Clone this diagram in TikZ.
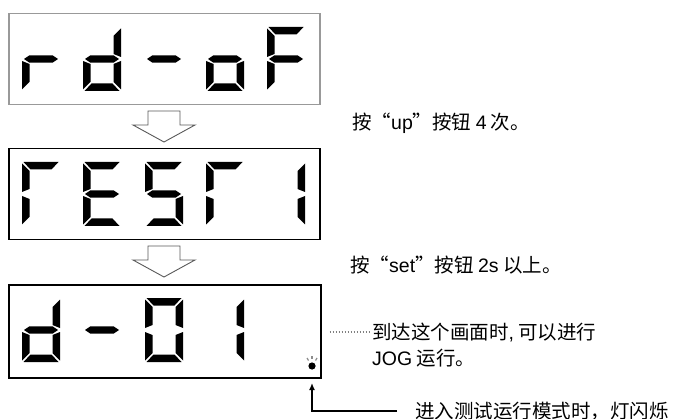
\documentclass[tikz,border=0pt]{standalone}
\usepackage{fontspec}
\setmainfont{Liberation Sans}
\newfontfamily\cjk{Noto Sans CJK SC}
\newfontfamily\lat{Liberation Sans}
\usetikzlibrary{arrows.meta}

\tikzset{
  lcdseg/.style={fill=black},
  lcdbox/.style={draw=black, line width=1.5pt, minimum width=311pt, minimum height=91pt, anchor=north west, inner sep=0pt},
  downarrow/.style={draw=black!65, fill=white, line width=0.9pt, line join=miter},
  note/.style={font=\cjk\fontsize{19.5}{23}\selectfont, inner sep=0pt, anchor=west},
}

% segments of one character, origin at its top left corner
\def\sega{(1.5,0) -- (36.5,0) -- (29.5,7.5) -- (8.5,7.5) -- cycle}
\def\segb{(38,1.5) -- (38,30) -- (30.5,27) -- (30.5,9) -- cycle}
\def\segc{(38,34) -- (38,62.5) -- (30.5,55) -- (30.5,37) -- cycle}
\def\segd{(8.5,56.5) -- (29.5,56.5) -- (36.5,64) -- (1.5,64) -- cycle}
\def\sege{(0,34) -- (7.5,37) -- (7.5,55) -- (0,62.5) -- cycle}
\def\segf{(0,1.5) -- (7.5,9) -- (7.5,27) -- (0,30) -- cycle}
\def\segg{(2,32) -- (7.5,28.3) -- (30.5,28.3) -- (36,32) -- (30.5,35.7) -- (7.5,35.7) -- cycle}

\newcommand\lcdchar[3]{%
  \begin{scope}[shift={(#1,#2)}]
    \foreach \s in {#3} {\fill[lcdseg] \csname seg\s\endcsname;}
  \end{scope}}

\newcommand\blockarrow[1]{%
  \draw[downarrow] (148,#1) -- ++(32,0) -- ++(0,14) -- ++(15,0) -- ++(-31,17) -- ++(-31,-17) -- ++(15,0) -- cycle;}

\begin{document}
\begin{tikzpicture}[x=1pt, y=-1pt]
  \useasboundingbox (0,0) rectangle (676,419);

  % the three displays
  \node[lcdbox, draw=black!40] (disp1) at (8,13) {};
  \node[lcdbox] (disp2) at (8,148) {};
  \node[lcdbox, minimum height=93pt, minimum width=312pt] (disp3) at (8,284) {};

  % rd-oF
  \lcdchar{22}{27}{e,g}
  \lcdchar{83}{27}{b,c,d,e,g}
  \lcdchar{145}{27}{g}
  \lcdchar{206}{27}{c,d,e,g}
  \lcdchar{267}{27}{a,e,f,g}

  % test 1
  \lcdchar{22}{162}{a,e,f}
  \lcdchar{83}{162}{a,d,e,f,g}
  \lcdchar{145}{162}{a,c,d,f,g}
  \lcdchar{206}{162}{a,e,f}
  \lcdchar{267}{162}{b,c}

  % d-01
  \lcdchar{22}{298}{b,c,d,e,g}
  \lcdchar{83}{298}{g}
  \lcdchar{145}{298}{a,b,c,d,e,f}
  \lcdchar{206}{298}{b,c}

  \blockarrow{111}
  \blockarrow{246}

  % lamp
  \coordinate (lamp) at (312,366);
  \coordinate (lamptip) at (312,383);
  \fill (lamp) circle (3.6pt);
  \draw[black!45, line width=1.2pt] (307,358) -- (308.5,360.5);
  \draw[black!45, line width=1.2pt] (312,356) -- (312,358.5);
  \draw[black!45, line width=1.2pt] (317,358) -- (315.5,360.5);

  \node[note] (upnote) at (352,123) {按“{\lat up}”按钮 {\lat 4} 次。};
  \node[note] (setnote) at (350,265) {按“{\lat set}”按钮 {\lat 2s} 以上。};
  \node[note] (reach) at (372,332) {到达这个画面时{\lat ,} 可以进行};
  \node[note] (jog) at (372,358) {{\lat JOG} 运行。};
  \node[note] (blink) at (415,411) {进入测试运行模式时，灯闪烁};

  \draw[black!50, line width=1.3pt, dash pattern=on 1.3pt off 1.7pt] ([xshift=8pt]disp3.east |- reach.west) -- ([xshift=-2pt]reach.west);
  \draw[line width=1.5pt, -{Latex[length=7pt,width=6pt]}] ([xshift=-18pt]blink.west) -| (lamptip);
\end{tikzpicture}
\end{document}
